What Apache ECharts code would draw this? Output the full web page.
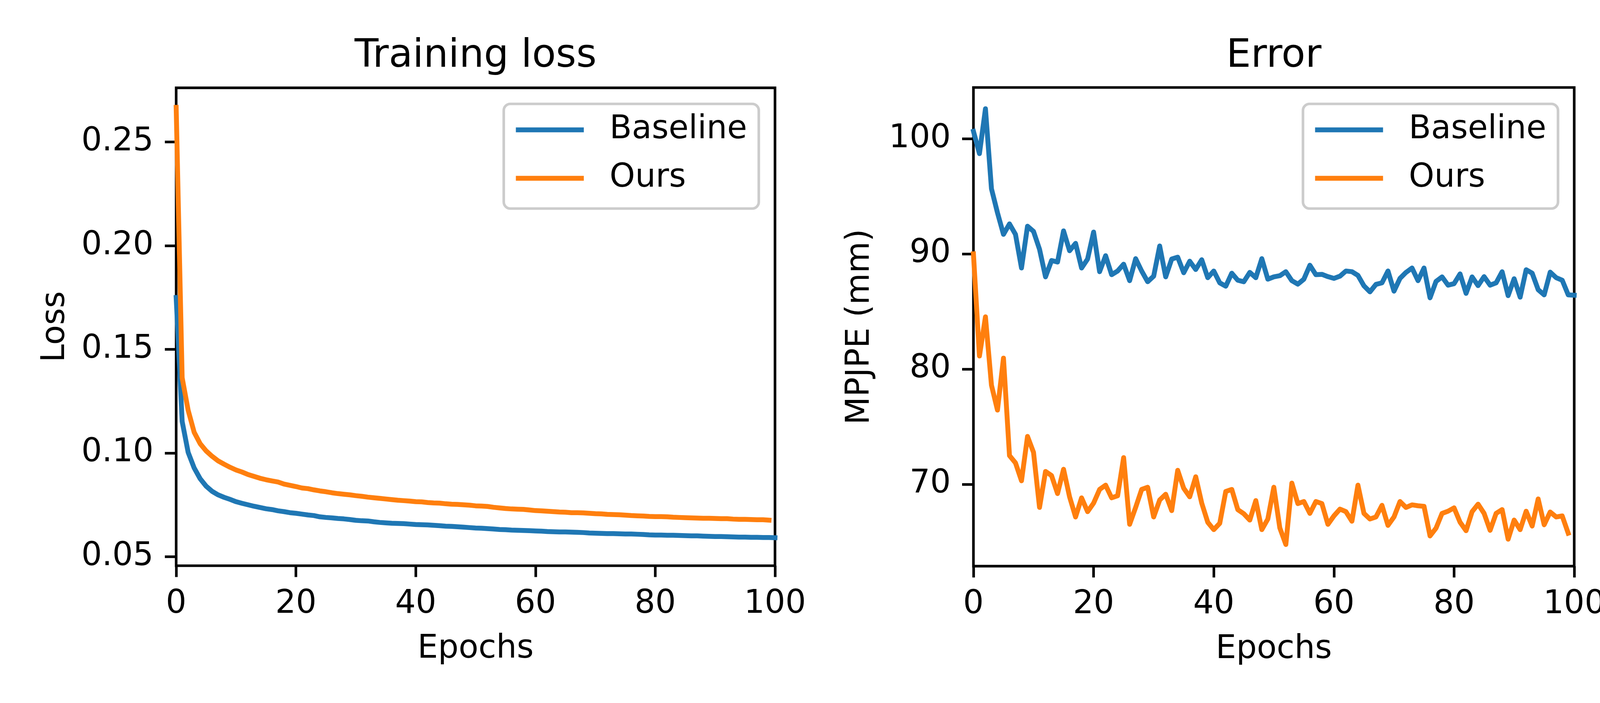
<!DOCTYPE html>
<html>
<head>
<meta charset="utf-8">
<title>Training loss / Error</title>
<script src="https://cdn.jsdelivr.net/npm/echarts@6/dist/echarts.min.js"></script>
<style>
  html, body { margin: 0; padding: 0; background: #fff; }
  #chart { width: 4200px; height: 1800px; }
</style>
</head>
<body>
<div id="chart"></div>
<script>
// series names
const seriesNames = ['Baseline', 'Ours'];

// training loss per epoch (Baseline: epochs 0-100, Ours: epochs 0-99)
const lossBaseline = [
    0.175, 0.1152, 0.1003, 0.0928, 0.0876, 0.0840, 0.0815, 0.0798, 0.0786, 0.0776,
    0.0765, 0.0757, 0.0750, 0.0743, 0.0737, 0.0731, 0.0727, 0.0721, 0.0717, 0.0712,
    0.0709, 0.0705, 0.0701, 0.0698, 0.0692, 0.0689, 0.0687, 0.0684, 0.0682, 0.0679,
    0.0675, 0.0673, 0.0672, 0.0668, 0.0665, 0.0663, 0.0661, 0.0660, 0.0659, 0.0657,
    0.0655, 0.0654, 0.0653, 0.0651, 0.0649, 0.0647, 0.0646, 0.0644, 0.0642, 0.0640,
    0.0638, 0.0637, 0.0635, 0.0633, 0.0631, 0.0630, 0.0628, 0.0627, 0.0626, 0.0625,
    0.0624, 0.0623, 0.0621, 0.0620, 0.0619, 0.0619, 0.0618, 0.0617, 0.0616, 0.0614,
    0.0613, 0.0612, 0.0611, 0.0611, 0.0610, 0.0609, 0.0609, 0.0608, 0.0607, 0.0605,
    0.0604, 0.0604, 0.0603, 0.0603, 0.0602, 0.0601, 0.0600, 0.0600, 0.0599, 0.0598,
    0.0597, 0.0597, 0.0596, 0.0595, 0.0594, 0.0594, 0.0593, 0.0593, 0.0592, 0.0592,
    0.0591
];
const lossOurs = [
    0.2667, 0.1363, 0.1206, 0.1100, 0.1045, 0.1010, 0.0984, 0.0962, 0.0946, 0.0931,
    0.0918, 0.0908, 0.0896, 0.0887, 0.0878, 0.0871, 0.0865, 0.0860, 0.0850, 0.0844,
    0.0838, 0.0831, 0.0828, 0.0822, 0.0817, 0.0813, 0.0808, 0.0804, 0.0801, 0.0798,
    0.0794, 0.0791, 0.0787, 0.0784, 0.0781, 0.0778, 0.0775, 0.0772, 0.0770, 0.0768,
    0.0765, 0.0764, 0.0761, 0.0759, 0.0758, 0.0755, 0.0753, 0.0752, 0.0750, 0.0748,
    0.0745, 0.0744, 0.0742, 0.0738, 0.0735, 0.0732, 0.0730, 0.0729, 0.0728, 0.0725,
    0.0722, 0.0721, 0.0719, 0.0717, 0.0715, 0.0714, 0.0712, 0.0712, 0.0711, 0.0709,
    0.0707, 0.0706, 0.0704, 0.0703, 0.0702, 0.0700, 0.0698, 0.0697, 0.0696, 0.0694,
    0.0693, 0.0693, 0.0692, 0.0690, 0.0689, 0.0688, 0.0687, 0.0686, 0.0685, 0.0685,
    0.0684, 0.0683, 0.0683, 0.0681, 0.0680, 0.0680, 0.0679, 0.0678, 0.0678, 0.0676
];

// MPJPE (mm) per epoch
const errBaseline = [
    100.64, 98.70, 102.59, 95.65, 93.57, 91.69, 92.60, 91.69, 88.77, 92.40,
    91.95, 90.40, 88.00, 89.42, 89.29, 91.99, 90.27, 90.91, 88.77, 89.55,
    91.89, 88.45, 89.84, 88.19, 88.51, 89.10, 87.67, 89.58, 88.51, 87.58,
    88.06, 90.68, 88.00, 89.55, 89.71, 88.36, 89.36, 88.64, 89.49, 87.93,
    88.51, 87.48, 87.19, 88.32, 87.71, 87.58, 88.39, 87.93, 89.58, 87.80,
    88.00, 88.10, 88.45, 87.67, 87.37, 87.80, 89.01, 88.19, 88.22, 88.02,
    87.87, 88.06, 88.51, 88.45, 88.13, 87.22, 86.70, 87.35, 87.48, 88.51,
    86.76, 87.87, 88.39, 88.77, 87.67, 88.77, 86.18, 87.61, 88.00, 87.28,
    87.41, 88.26, 86.57, 88.00, 87.24, 88.02, 87.28, 87.48, 88.45, 86.37,
    87.84, 86.24, 88.62, 88.32, 86.89, 86.44, 88.41, 87.93, 87.71, 86.44,
    86.41
];
const errOurs = [
    90.00, 81.13, 84.53, 78.60, 76.44, 80.95, 72.49, 71.85, 70.30, 74.15,
    72.77, 67.99, 71.11, 70.75, 69.19, 71.30, 68.91, 67.16, 68.82, 67.62,
    68.36, 69.55, 69.92, 68.82, 69.00, 72.31, 66.52, 67.99, 69.55, 69.74,
    67.16, 68.63, 69.13, 67.71, 71.21, 69.65, 68.91, 70.65, 68.36, 66.70,
    66.06, 66.61, 69.37, 69.55, 67.80, 67.44, 66.89, 68.58, 66.06, 66.98,
    69.74, 66.20, 64.77, 70.10, 68.32, 68.50, 67.47, 68.50, 68.32, 66.52,
    67.25, 67.84, 67.62, 66.79, 69.92, 67.47, 66.98, 67.16, 68.17, 66.43,
    67.16, 68.50, 67.99, 68.21, 68.13, 68.08, 65.51, 66.19, 67.47, 67.66,
    67.95, 66.70, 65.97, 67.62, 68.27, 67.47, 66.00, 67.47, 67.80, 65.23,
    66.89, 66.06, 67.66, 66.37, 68.72, 66.48, 67.59, 67.16, 67.25, 65.75
];

// tick labels
const epochTicks = [0, 20, 40, 60, 80, 100];
const lossTicks = [0.05, 0.10, 0.15, 0.20, 0.25];
const errTicks = [70, 80, 90, 100];

// styles (600 dpi: 1pt = 8.33px)
const FONT = 'DejaVu Sans';
const COLORS = ['#1f77b4', '#ff7f0e'];
const LINE_W = 12.5;
const SPINE_W = 6.7;
const TICK_LEN = 29;
const TICK_FS = 83;
const TITLE_FS = 100;

// epoch index -> [x, y]
function toPairs(values) {
    return values.map((v, i) => [i, v]);
}

function makeXAxis(gridIndex) {
    return {
        gridIndex: gridIndex,
        type: 'value',
        min: epochTicks[0],
        max: epochTicks[epochTicks.length - 1],
        interval: 20,
        name: 'Epochs',
        nameLocation: 'middle',
        nameGap: 172,
        nameTextStyle: { fontFamily: FONT, fontSize: TICK_FS, color: '#000', lineHeight: TICK_FS },
        axisLine: { show: false },
        axisTick: { show: true, length: TICK_LEN, lineStyle: { color: '#000', width: SPINE_W } },
        axisLabel: { fontFamily: FONT, fontSize: TICK_FS, color: '#000', margin: 57, lineHeight: TICK_FS },
        splitLine: { show: false }
    };
}

function makeYAxis(gridIndex, name, nameGap, min, max, ticks, fmt) {
    return {
        gridIndex: gridIndex,
        type: 'value',
        min: min,
        max: max,
        name: name,
        nameLocation: 'middle',
        nameRotate: 90,
        nameGap: nameGap,
        nameTextStyle: { fontFamily: FONT, fontSize: TICK_FS, color: '#000', lineHeight: TICK_FS },
        axisLine: { show: false },
        axisTick: {
            show: true,
            customValues: ticks,
            length: TICK_LEN,
            lineStyle: { color: '#000', width: SPINE_W }
        },
        axisLabel: {
            customValues: ticks,
            formatter: fmt,
            fontFamily: FONT,
            fontSize: TICK_FS,
            color: '#000',
            margin: 58
        },
        splitLine: { show: false }
    };
}

function makeLegend(right) {
    return {
        data: seriesNames,
        orient: 'vertical',
        right: right,
        top: 266,
        icon: 'rect',
        itemWidth: 174,
        itemHeight: LINE_W,
        itemGap: 41,
        padding: [25, 30, 36, 31],
        backgroundColor: 'rgba(255,255,255,0.8)',
        borderColor: '#cccccc',
        borderWidth: SPINE_W,
        borderRadius: 17,
        selectedMode: false,
        z: 5,
        textStyle: {
            fontFamily: FONT,
            fontSize: TICK_FS,
            color: '#000',
            lineHeight: TICK_FS,
            padding: [0, 0, 0, 61]
        }
    };
}

function makeLine(name, values, colorIdx, axisIdx) {
    return {
        name: name,
        type: 'line',
        xAxisIndex: axisIdx,
        yAxisIndex: axisIdx,
        data: toPairs(values),
        showSymbol: false,
        symbol: 'none',
        clip: true,
        color: COLORS[colorIdx],
        lineStyle: { color: COLORS[colorIdx], width: LINE_W, cap: 'square', join: 'round' },
        emphasis: { disabled: true }
    };
}

// centred subplot titles (middle of em box = baseline - 0.297em)
function makeTitle(text, cx) {
    return {
        type: 'text',
        x: cx,
        y: 174.5 - 0.297 * TITLE_FS,
        style: {
            text: text,
            fontFamily: FONT,
            fontSize: TITLE_FS,
            fill: '#000',
            textAlign: 'center',
            textVerticalAlign: 'middle'
        }
    };
}

const chart = echarts.init(document.getElementById('chart'));

// spines drawn above the lines, like matplotlib
const gridBox = { show: true, z: 3, borderColor: '#000', borderWidth: SPINE_W, backgroundColor: 'transparent' };

chart.setOption({
    animation: false,
    backgroundColor: '#fff',
    textStyle: { fontFamily: FONT },
    grid: [
        Object.assign({ left: 451, top: 224.8, width: 1533, height: 1223.7 }, gridBox),
        Object.assign({ left: 2492, top: 224, width: 1538, height: 1225.6 }, gridBox)
    ],
    xAxis: [makeXAxis(0), makeXAxis(1)],
    yAxis: [
        makeYAxis(0, 'Loss', 267, 0.04561, 0.27615, lossTicks, v => v.toFixed(2)),
        makeYAxis(1, 'MPJPE (mm)', 248, 62.89, 104.44, errTicks, v => String(v))
    ],
    legend: [makeLegend(4200 - 1942.5), makeLegend(4200 - 3988.5)],
    graphic: [
        makeTitle('Training loss', 1217.5),
        makeTitle('Error', 3261)
    ],
    series: [
        makeLine(seriesNames[0], lossBaseline, 0, 0),
        makeLine(seriesNames[1], lossOurs, 1, 0),
        makeLine(seriesNames[0], errBaseline, 0, 1),
        makeLine(seriesNames[1], errOurs, 1, 1)
    ]
});

window.addEventListener('resize', () => chart.resize());
</script>
</body>
</html>
